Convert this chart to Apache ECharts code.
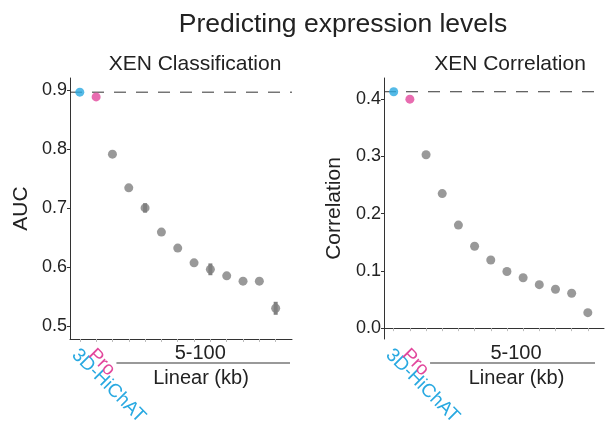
<!DOCTYPE html>
<html lang="en">
<head>
    <meta charset="UTF-8">
    <title>Predicting expression levels</title>
    <script src="https://cdn.jsdelivr.net/npm/echarts@6/dist/echarts.min.js"></script>
    <style>
        html, body { margin: 0; padding: 0; background: #fff; }
    </style>
</head>
<body>
<div id="chart" style="width: 605px;height:428px;"></div>
<script type="text/javascript">
    // position 1 = 3D-HiChAT, 2 = Pro, 3..13 = linear 5-100 kb windows
    var methodLabels = ['3D-HiChAT', 'Pro'];
    var xPos = [1, 2, 3, 4, 5, 6, 7, 8, 9, 10, 11, 12, 13];
    var aucVals = [0.896, 0.888, 0.791, 0.734, 0.700, 0.659, 0.632, 0.607, 0.596, 0.585, 0.576, 0.576, 0.530];
    var aucErr = [0, 0, 0, 0, 0.008, 0, 0, 0, 0.01, 0, 0, 0, 0.011];
    var corVals = [0.413, 0.400, 0.303, 0.235, 0.180, 0.143, 0.119, 0.099, 0.088, 0.076, 0.068, 0.061, 0.027];
    var corErr = [0, 0, 0, 0, 0, 0, 0, 0, 0, 0, 0, 0, 0];
    var aucTicks = [0.5, 0.6, 0.7, 0.8, 0.9];
    var corTicks = [0.0, 0.1, 0.2, 0.3, 0.4];
    var aucRange = [0.478, 0.92];
    var corRange = [-0.019, 0.437];
    var xRange = [0.4, 14];

    var BLUE = '#29a9e1', PINK = '#e2479c', GRAY = '#808080';
    var FONT = '"Liberation Sans", Arial, sans-serif';
    var TXT = '#222';

    function pointData(vals) {
        return vals.map(function (v, i) {
            var c = i == 0 ? BLUE : (i == 1 ? PINK : GRAY);
            return { value: [xPos[i], v], itemStyle: { color: c } };
        });
    }
    function errData(vals, errs) {
        var out = [];
        for (var i = 0; i < vals.length; i++) {
            if (errs[i] > 0) out.push([xPos[i], vals[i] - errs[i], vals[i] + errs[i]]);
        }
        return out;
    }
    function renderErr(params, api) {
        var lo = api.coord([api.value(0), api.value(1)]);
        var hi = api.coord([api.value(0), api.value(2)]);
        return {
            type: 'rect',
            shape: { x: lo[0] - 2, y: hi[1], width: 4, height: lo[1] - hi[1] },
            style: { fill: GRAY }
        };
    }

    function xAxisCfg(idx, namePad) {
        return {
            gridIndex: idx, type: 'value', min: xRange[0], max: xRange[1],
            splitLine: { show: false },
            axisLine: { lineStyle: { color: '#333', width: 1 } },
            axisTick: { customValues: xPos, length: 3, lineStyle: { color: '#bbb' } },
            axisLabel: { show: false },
            name: 'Linear (kb)', nameLocation: 'middle', nameGap: 29,
            nameTextStyle: { fontSize: 20, color: TXT, fontFamily: FONT, padding: [0, 0, 0, namePad] }
        };
    }
    function yAxisCfg(idx, range, ticks, name, gap) {
        return {
            gridIndex: idx, type: 'value', min: range[0], max: range[1],
            splitLine: { show: false },
            axisLine: { show: true, lineStyle: { color: '#333', width: 1 } },
            axisTick: { show: true, customValues: ticks, length: 3, lineStyle: { color: '#333' } },
            axisLabel: {
                customValues: ticks, margin: 3, fontSize: 18, color: TXT, fontFamily: FONT,
                formatter: function (v) { return v.toFixed(1); }
            },
            name: name, nameLocation: 'middle', nameRotate: 90, nameGap: gap,
            nameTextStyle: { fontSize: 21, color: TXT, fontFamily: FONT }
        };
    }
    function scatterCfg(idx, vals) {
        return {
            type: 'scatter', xAxisIndex: idx, yAxisIndex: idx, z: 5,
            symbolSize: 9, data: pointData(vals)
        };
    }
    // dashed reference line at the 3D-HiChAT value
    function refLineCfg(idx, vals) {
        return {
            type: 'line', xAxisIndex: idx, yAxisIndex: idx, z: 3, silent: true,
            symbol: 'none', data: [[xRange[0], vals[0]], [xRange[1], vals[0]]],
            lineStyle: { color: '#333', width: 1, type: [12, 10] }
        };
    }

    var chart = echarts.init(document.getElementById('chart'));
    chart.setOption({
        animation: false,
        backgroundColor: '#fff',
        title: [
            { text: 'Predicting expression levels', left: 338, top: 6, textAlign: 'center',
              textStyle: { fontSize: 26.5, fontWeight: 'normal', color: TXT, fontFamily: FONT } },
            { text: 'XEN Classification', left: 190, top: 49, textAlign: 'center',
              textStyle: { fontSize: 21, fontWeight: 'normal', color: TXT, fontFamily: FONT } },
            { text: 'XEN Correlation', left: 505, top: 49, textAlign: 'center',
              textStyle: { fontSize: 21, fontWeight: 'normal', color: TXT, fontFamily: FONT } }
        ],
        grid: [
            { left: 70, right: 313, top: 78, bottom: 89 },
            { left: 384, right: 1, top: 78, bottom: 89 }
        ],
        xAxis: [xAxisCfg(0, 40), xAxisCfg(1, 45)],
        yAxis: [
            yAxisCfg(0, aucRange, aucTicks, 'AUC', 38),
            yAxisCfg(1, corRange, corTicks, 'Correlation', 39)
        ],
        series: [
            refLineCfg(0, aucVals),
            refLineCfg(1, corVals),
            scatterCfg(0, aucVals),
            scatterCfg(1, corVals),
            { type: 'custom', xAxisIndex: 0, yAxisIndex: 0, z: 4, renderItem: renderErr, data: errData(aucVals, aucErr) },
            { type: 'custom', xAxisIndex: 1, yAxisIndex: 1, z: 4, renderItem: renderErr, data: errData(corVals, corErr) }
        ]
    });

    // rotated method labels under the first two ticks, placed via the axis scale
    // p = [panel, y range, bracket-line end inset, "5-100" x shift]
    var graphics = [];
    [[0, aucRange, 2, -2], [1, corRange, 9, 1]].forEach(function (p) {
        var finder = { xAxisIndex: p[0], yAxisIndex: p[0] };
        methodLabels.forEach(function (lab, i) {
            var pt = chart.convertToPixel(finder, [xPos[i], p[1][0]]);
            graphics.push({
                type: 'text', x: pt[0] - 5, y: pt[1] + 13, rotation: -Math.PI / 4,
                style: { text: lab, fill: i == 0 ? BLUE : PINK, font: '19px ' + FONT,
                         align: 'left', verticalAlign: 'middle' }
            });
        });
        var a = chart.convertToPixel(finder, [3, p[1][0]]);
        var b = chart.convertToPixel(finder, [xRange[1], p[1][0]]);
        graphics.push({ type: 'line', shape: { x1: a[0] + 4, y1: a[1] + 24, x2: b[0] - p[2], y2: b[1] + 24 },
                        style: { stroke: '#777', lineWidth: 1.5 } });
        graphics.push({ type: 'text', x: (a[0] + b[0]) / 2 + p[3], y: a[1] + 14,
                        style: { text: '5-100', fill: TXT, font: '20px ' + FONT, align: 'center', verticalAlign: 'middle' } });
    });
    chart.setOption({ graphic: graphics });
</script>
</body>
</html>
